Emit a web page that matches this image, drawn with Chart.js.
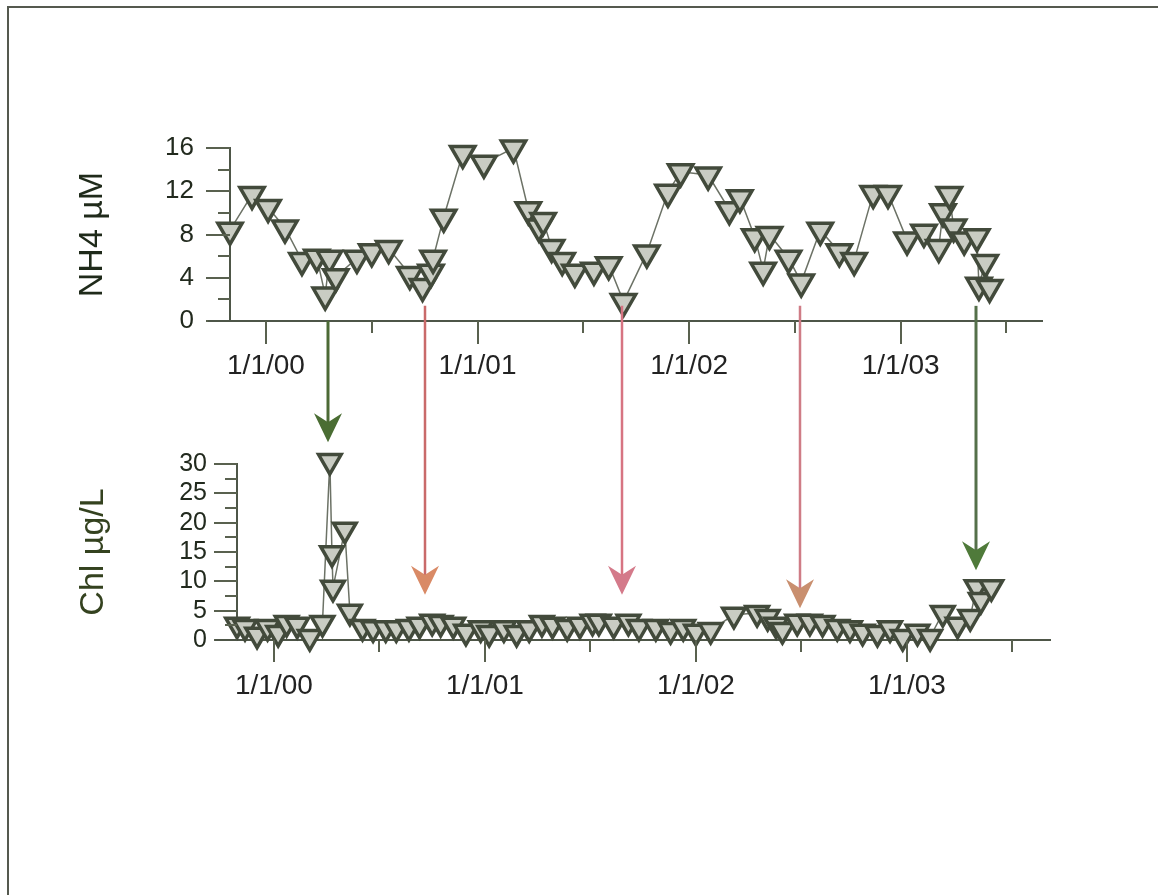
<!DOCTYPE html>
<html><head><meta charset="utf-8">
<script src="https://cdn.jsdelivr.net/npm/chart.js@4.4.1/dist/chart.umd.min.js"></script>
<style>
html,body{margin:0;padding:0;background:#fff;width:1158px;height:895px;overflow:hidden}
#frame{position:absolute;left:7px;top:6px;right:0;bottom:0;border-top:2px solid #55594f;border-left:2px solid #55594f}
canvas{position:absolute;left:0;top:0}
</style></head><body>
<div id="frame"></div>
<canvas id="topChart" width="1158" height="895"></canvas>
<canvas id="botChart" width="1158" height="895"></canvas>
<script>
// ---- Data ----
const xTickValues = [2000, 2000.5, 2001, 2001.5, 2002, 2002.5, 2003, 2003.5];
const xTickLabels = ['1/1/00', '', '1/1/01', '', '1/1/02', '', '1/1/03', ''];

const nh4Dates = [1999.83, 1999.934, 2000.01, 2000.09, 2000.17, 2000.24, 2000.28, 2000.30, 2000.33, 2000.43,
  2000.50, 2000.58, 2000.68, 2000.74, 2000.78, 2000.79, 2000.84, 2000.93, 2001.03, 2001.17,
  2001.24, 2001.29, 2001.31, 2001.35, 2001.40, 2001.46, 2001.55, 2001.62, 2001.69, 2001.80,
  2001.90, 2001.96, 2002.09, 2002.19, 2002.24, 2002.31, 2002.35, 2002.38, 2002.47, 2002.53,
  2002.62, 2002.71, 2002.78, 2002.87, 2002.94, 2003.03, 2003.11, 2003.18, 2003.20, 2003.23,
  2003.25, 2003.30, 2003.36, 2003.37, 2003.40, 2003.42];
const nh4Values = [8.4, 11.7, 10.5, 8.6, 5.6, 5.9, 2.4, 5.8, 4.1, 5.8,
  6.4, 6.7, 4.3, 3.2, 4.5, 5.8, 9.6, 15.5, 14.6, 16.0,
  10.3, 8.7, 9.3, 6.8, 5.6, 4.5, 4.7, 5.2, 1.8, 6.3,
  11.9, 13.8, 13.5, 10.3, 11.4, 7.8, 4.7, 8.0, 5.8, 3.6,
  8.4, 6.4, 5.6, 11.8, 11.8, 7.5, 8.2, 6.8, 10.1, 11.7,
  8.7, 7.5, 7.8, 3.3, 5.4, 3.1];

const chlDates = [1999.825, 1999.863, 1999.92, 1999.97, 2000.02, 2000.06, 2000.11, 2000.17, 2000.23, 2000.265,
  2000.275, 2000.28, 2000.336, 2000.36, 2000.42, 2000.47, 2000.53, 2000.58, 2000.64, 2000.69,
  2000.75, 2000.79, 2000.85, 2000.91, 2000.98, 2001.02, 2001.09, 2001.15, 2001.21, 2001.27,
  2001.32, 2001.39, 2001.45, 2001.51, 2001.54, 2001.61, 2001.68, 2001.73, 2001.81, 2001.88,
  2001.94, 2002.00, 2002.07, 2002.18, 2002.29, 2002.34, 2002.38, 2002.41, 2002.48, 2002.54,
  2002.60, 2002.67, 2002.73, 2002.79, 2002.86, 2002.92, 2002.98, 2003.05, 2003.11, 2003.17,
  2003.24, 2003.30, 2003.33, 2003.35, 2003.40];
const chlValues = [2.6, 2.2, 0.9, 2.2, 1.2, 2.9, 2.6, 0.5, 2.9, 30.5,
  14.8, 8.9, 18.8, 4.8, 2.2, 2.0, 2.0, 2.0, 2.2, 2.6,
  3.1, 2.9, 2.6, 1.4, 2.0, 1.2, 2.0, 1.2, 2.0, 2.9,
  2.6, 2.2, 2.6, 3.1, 3.1, 2.6, 3.1, 2.2, 2.2, 1.7,
  2.2, 1.4, 1.7, 4.3, 4.6, 3.9, 2.6, 1.7, 3.1, 3.1,
  2.9, 2.2, 2.0, 1.4, 1.2, 2.0, 0.5, 1.4, 0.5, 4.6,
  2.6, 3.9, 9.0, 6.8, 9.0];

// arrows: date, start (NH4 units), tip (Chl units)
const arrowDates = [2000.293, 2000.751, 2001.682, 2002.522, 2003.354];
const arrowStartNH4 = [0, 1.4, 1.4, 1.4, 1.4];
const arrowTipChl = [33.7, 7.7, 7.7, 5.4, 11.9];
const arrowLineColors = ['#4c6a36', '#c96a6a', '#d77482', '#cf7c86', '#55704a'];
const arrowHeadColors = ['#4a6d33', '#d98a66', '#d47a8a', '#c98f6f', '#4f7a3a'];

const FONT = '"Liberation Sans", Arial, sans-serif';

const tickMarks = {
  id: 'tickMarks',
  afterDraw(chart, args, o) {
    const ctx = chart.ctx, xs = chart.scales.x, ys = chart.scales.y;
    ctx.save();
    ctx.strokeStyle = o.color; ctx.lineWidth = o.width;
    const line = (a, b, c, d) => { ctx.beginPath(); ctx.moveTo(a, b); ctx.lineTo(c, d); ctx.stroke(); };
    xs.ticks.forEach(t => {
      const px = Math.round(xs.getPixelForValue(t.value));
      const len = Number.isInteger(t.value) ? o.xMajor : o.xMinor;
      line(px, xs.top, px, xs.top + len);
    });
    ys.ticks.forEach(t => {
      const py = Math.round(ys.getPixelForValue(t.value));
      const len = (Math.abs(t.value % o.yLabelStep) < 1e-6) ? o.yMajor : o.yMinor;
      line(ys.right - len, py, ys.right, py);
    });
    ctx.strokeStyle = o.axisColor;
    line(chart.chartArea.left - o.overhang, xs.top, chart.chartArea.left, xs.top);
    ctx.restore();
  }
};

function makeChart(id, dates, values, c) {
  return new Chart(document.getElementById(id), {
    type: 'line',
    data: { datasets: [{
      data: dates.map((d, i) => ({ x: d, y: values[i] })),
      borderColor: '#6c7266', borderWidth: 1.5,
      pointStyle: 'triangle', rotation: 180, pointRadius: c.r,
      pointBackgroundColor: '#c9ccc3', pointBorderColor: '#424a3b', pointBorderWidth: 3.5,
      clip: false, tension: 0
    }]},
    options: {
      responsive: false, animation: false, devicePixelRatio: 1,
      layout: { padding: c.pad },
      plugins: { legend: { display: false }, tooltip: { enabled: false }, tickMarks: c.ticks },
      scales: {
        x: {
          type: 'linear', min: c.xMin, max: c.xMax,
          afterFit: s => { s.height = 60; },
          afterBuildTicks: s => { s.ticks = xTickValues.map(v => ({ value: v })); },
          grid: { display: false, drawTicks: false },
          border: { display: true, color: '#4e5648', width: 2 },
          ticks: { autoSkip: false, maxRotation: 0, padding: c.xPad, color: '#222',
            font: { family: FONT, size: 28 },
            callback: v => { const i = xTickValues.indexOf(v); return i >= 0 ? xTickLabels[i] : ''; } }
        },
        y: {
          min: 0, max: c.yMax,
          afterFit: s => { s.width = c.yWidth; },
          grid: { display: false, drawTicks: false },
          border: { display: true, color: '#4e5648', width: 2 },
          ticks: { stepSize: c.yStep, autoSkip: false, padding: c.yPad, color: '#222a1e',
            font: { family: FONT, size: c.yFont, lineHeight: 1 },
            callback: v => (Math.abs(v % c.ticks.yLabelStep) < 1e-6 ? String(v) : '') },
          title: { display: true, text: c.title, color: c.titleColor,
            font: { family: FONT, size: 34 }, padding: { top: c.titlePad, bottom: 0 } }
        }
      }
    },
    plugins: c.extraPlugins ? [tickMarks].concat(c.extraPlugins) : [tickMarks]
  });
}

const topChart = makeChart('topChart', nh4Dates, nh4Values, {
  r: 14, pad: { left: 0, top: 148, right: 116, bottom: 514 },
  xMin: 1999.83, xMax: 2003.668,
  xPad: 28, yMax: 16, yStep: 2, yWidth: 230, yPad: 36, yFont: 26,
  title: 'NH4 µM', titleColor: '#1f2a1a', titlePad: 72,
  ticks: { xMajor: 23, xMinor: 12, yMajor: 24, yMinor: 12, yLabelStep: 4, overhang: 22, color: '#59614f', axisColor: '#4e5648', width: 2 }
});

const arrows = {
  id: 'arrows',
  afterDraw(chart) {
    const ctx = chart.ctx;
    const tx = topChart.scales.x, ty = topChart.scales.y, by = chart.scales.y;
    ctx.save();
    arrowDates.forEach((d, i) => {
      const x = Math.round(tx.getPixelForValue(d));
      const y0 = ty.getPixelForValue(arrowStartNH4[i]);
      const tip = by.getPixelForValue(arrowTipChl[i]);
      ctx.strokeStyle = arrowLineColors[i];
      ctx.lineWidth = i === 0 || i === 4 ? 3 : 2.5;
      ctx.beginPath(); ctx.moveTo(x, y0); ctx.lineTo(x, tip - 18); ctx.stroke();
      ctx.fillStyle = arrowHeadColors[i];
      ctx.beginPath();
      ctx.moveTo(x, tip);
      ctx.lineTo(x - 14, tip - 29);
      ctx.lineTo(x, tip - 20);
      ctx.lineTo(x + 14, tip - 29);
      ctx.closePath(); ctx.fill();
    });
    ctx.restore();
  }
};

const botChart = makeChart('botChart', chlDates, chlValues, {
  r: 13, pad: { left: 0, top: 464, right: 108, bottom: 195 },
  xMin: 1999.825, xMax: 2003.678,
  xPad: 29, yMax: 30, yStep: 2.5, yWidth: 237, yPad: 30, yFont: 25,
  title: 'Chl µg/L', titleColor: '#34421f', titlePad: 73,
  ticks: { xMajor: 22, xMinor: 12, yMajor: 23, yMinor: 12, yLabelStep: 5, overhang: 22, color: '#59614f', axisColor: '#4e5648', width: 2 },
  extraPlugins: [arrows]
});
</script>
</body></html>
